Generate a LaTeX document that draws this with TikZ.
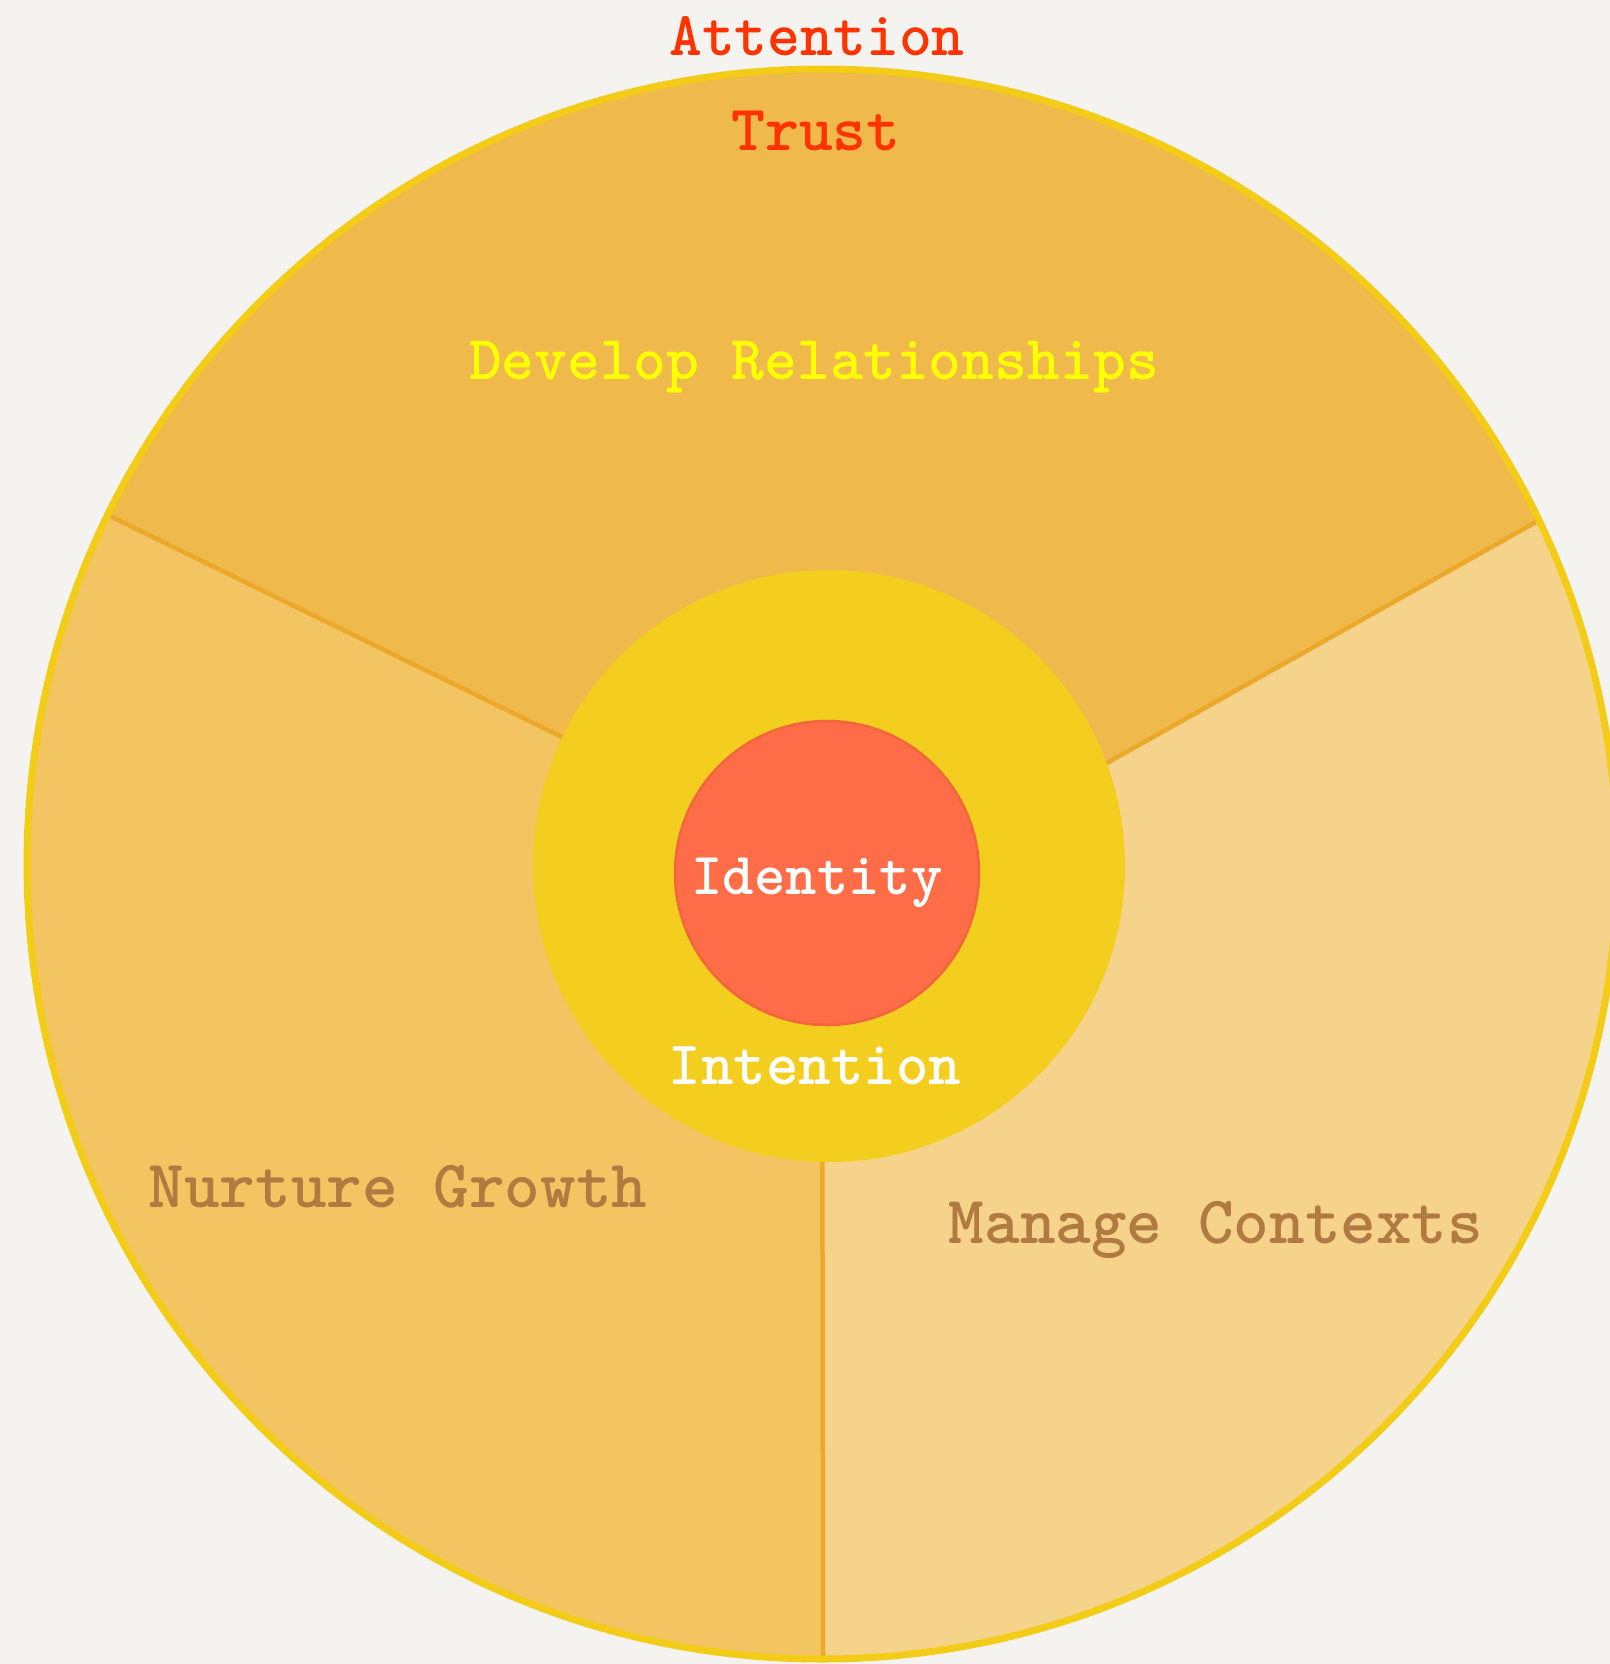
\documentclass[tikz,border=0pt]{standalone}
\usepackage{amsmath}
\usetikzlibrary{calc}
\definecolor{paper}{HTML}{F4F3F0}
\definecolor{relseg}{HTML}{F0B94B}
\definecolor{growseg}{HTML}{F2C462}
\definecolor{ctxseg}{HTML}{F5D38A}
\definecolor{rim}{HTML}{F2CC16}
\definecolor{divider}{HTML}{EBA82A}
\definecolor{intentring}{HTML}{F4CE1F}
\definecolor{identcore}{HTML}{FF6C48}
\definecolor{identedge}{HTML}{F2663C}
\definecolor{trustred}{HTML}{FF3300}
\definecolor{relyellow}{HTML}{FFFF00}
\definecolor{segbrown}{HTML}{B07A40}
\begin{document}
\begin{tikzpicture}[x=0.1mm,y=-0.1mm,
	lbl/.style={font=\ttfamily\bfseries\fontsize{#1}{#1}\selectfont, anchor=base, inner sep=0pt},
	cut/.style={draw=divider, line width=0.45mm}]
	\fill[paper] (0,0) rectangle (1610,1664);
	\useasboundingbox (0,0) rectangle (1610,1664);
	\coordinate (O) at (822,864);
	\coordinate (PR) at (1536,522);
	\coordinate (PL) at (112,517);
	\coordinate (PB) at (823,1659);
	\coordinate (Q) at (1000,823);
	% segments
	\begin{scope}
		\clip (O) circle[radius=79.5mm];
		\fill[relseg] (O) circle[radius=79.5mm];
		\fill[growseg] (O) -- ($(O)!1.3!(PL)$) -- (0,1700) -- (823,1700) -- cycle;
		\fill[ctxseg] (O) -- (Q) -- ($(Q)!1.3!(PR)$) -- (1750,1700) -- (823,1700) -- cycle;
		\draw[cut] (O) -- ($(O)!1.1!(PL)$);
		\draw[cut] (Q) -- ($(Q)!1.1!(PR)$);
		\draw[cut] (O) -- ($(O)!1.1!(PB)$);
	\end{scope}
	\draw[rim, line width=0.7mm] (O) circle[radius=79.5mm];
	\fill[intentring] (829,866) circle[radius=29.6mm];
	\fill[identcore, draw=identedge, line width=0.25mm] (827,873) circle[radius=15.2mm];
	% labels
	\node[lbl=17.8pt, text=trustred] (attention) at (817,56) {Attention};
	\node[lbl=18.4pt, text=trustred] (trust) at (816,150) {Trust};
	\node[lbl=17.8pt, text=relyellow] (develop) at (814,379) {Develop Relationships};
	\node[lbl=19.3pt, text=segbrown] (nurture) at (398,1207) {Nurture Growth};
	\node[lbl=19.3pt, text=segbrown] (manage) at (1216,1243) {Manage Contexts};
	\node[lbl=17pt, text=white] (identity) at (817,894) {Identity};
	\node[lbl=17.6pt, text=white] (intention) at (815,1084) {Intention};
\end{tikzpicture}
\end{document}
